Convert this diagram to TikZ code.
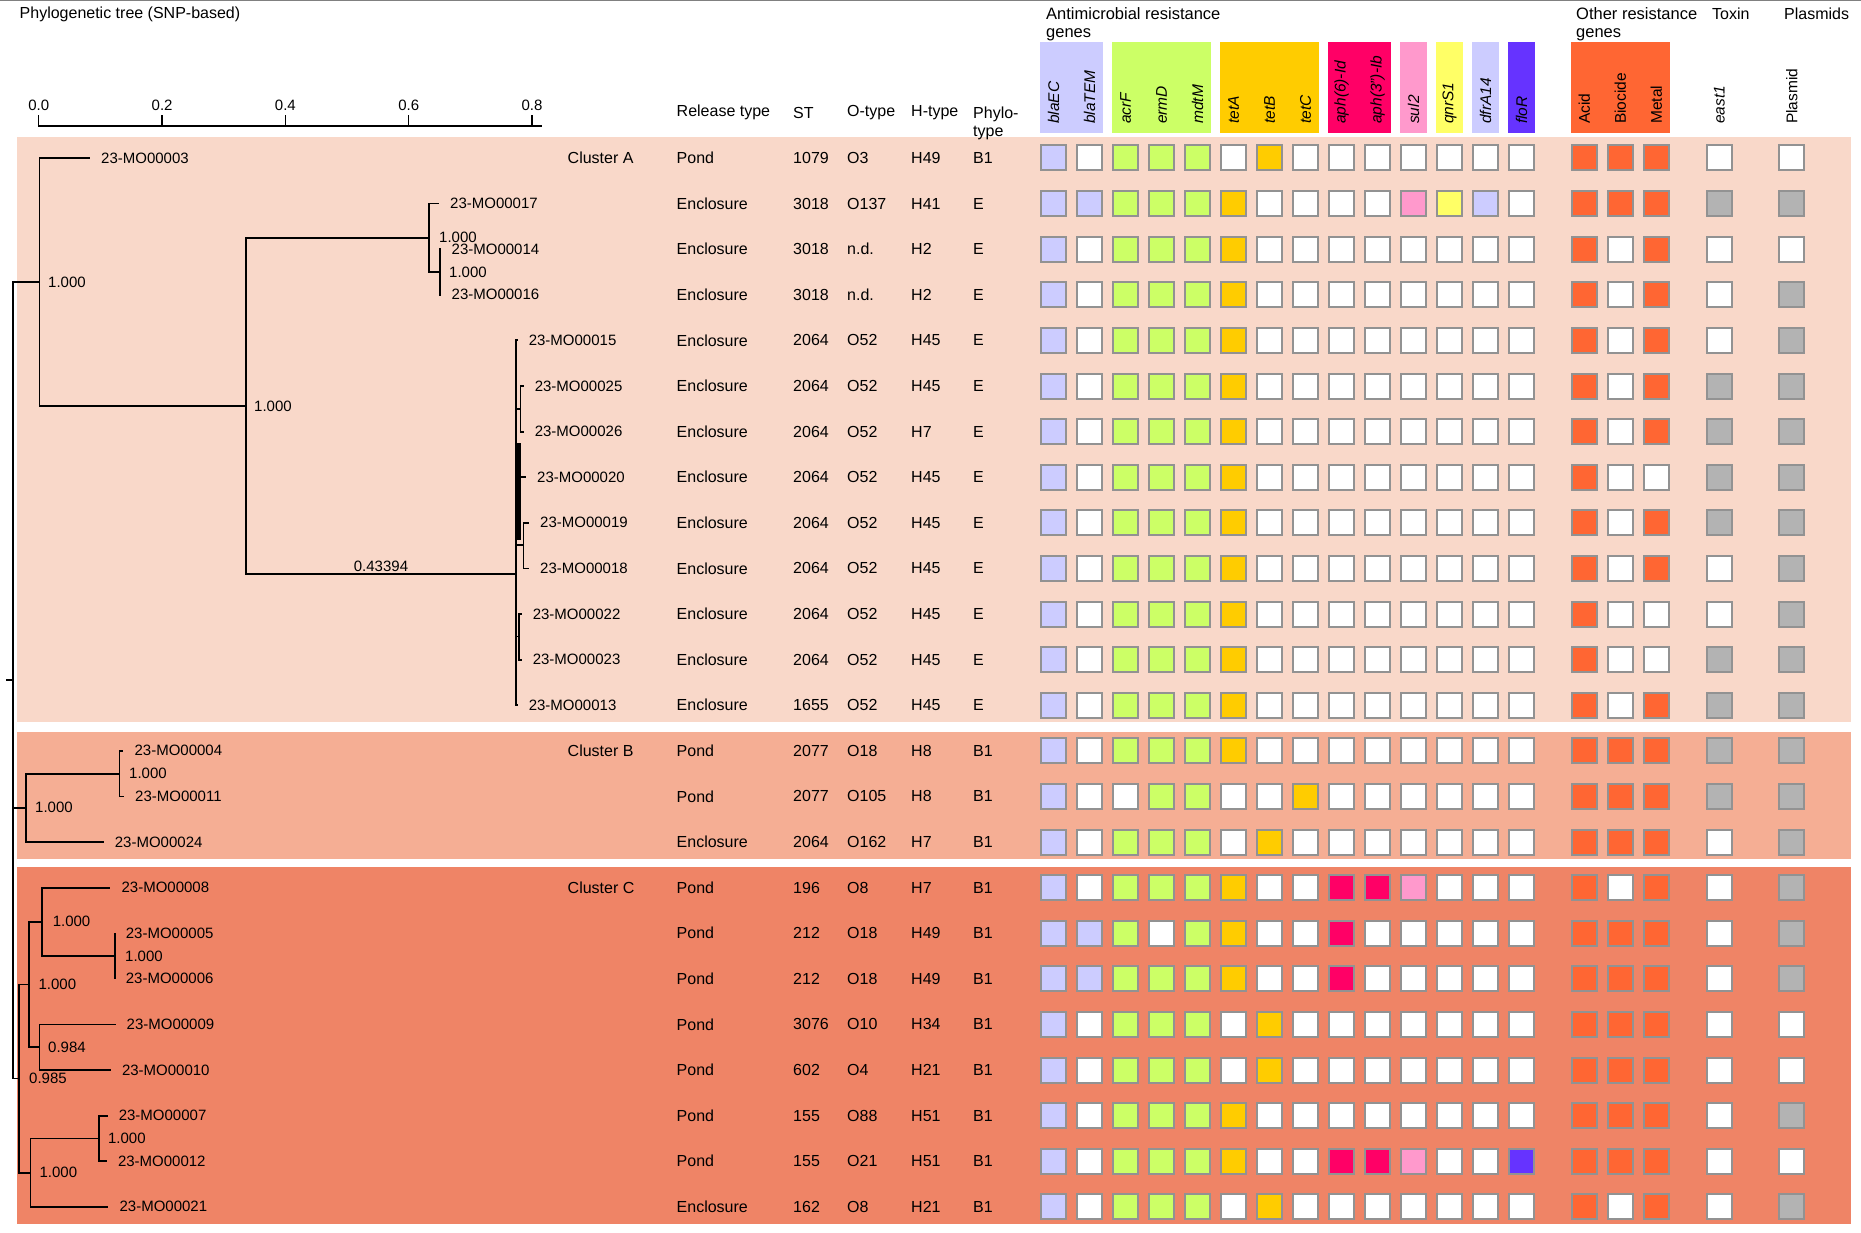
\documentclass[tikz,border=0pt]{standalone}
\usepackage{fontspec}
\setmainfont{Liberation Sans}
\usetikzlibrary{positioning,calc}

\definecolor{bandA}{HTML}{F9D8C9}
\definecolor{bandB}{HTML}{F5AE94}
\definecolor{bandC}{HTML}{EF8466}
\definecolor{genelav}{HTML}{CCCCFF}
\definecolor{genelime}{HTML}{CCFF66}
\definecolor{geneamber}{HTML}{FFCC00}
\definecolor{genecrim}{HTML}{FF0066}
\definecolor{genepink}{HTML}{FF99CC}
\definecolor{geneyel}{HTML}{FFFF66}
\definecolor{genepurp}{HTML}{6633FF}
\definecolor{geneorg}{HTML}{FF6633}
\definecolor{genegray}{HTML}{B3B3B3}
\definecolor{cellline}{HTML}{929292}

% column centres and colours of the gene matrix
\newcommand{\genecols}{1053.5/genelav,1089.5/genelav,1125.5/genelime,1161.5/genelime,1197.5/genelime,1233.5/geneamber,1269.5/geneamber,1305.5/geneamber,1341.5/genecrim,1377.5/genecrim,1413.5/genepink,1449.5/geneyel,1485.5/genelav,1521.5/genepurp,1584.3/geneorg,1620.3/geneorg,1656.3/geneorg,1719.3/genegray,1791.7/genegray}

\tikzset{
  branch/.style={line width=1.8pt, black},
  txt/.style={anchor=west, inner sep=0pt, font=\fontsize{16}{18}\selectfont},
  leaf/.style={anchor=west, inner xsep=11pt, inner ysep=0pt, font=\fontsize{15}{17}\selectfont},
  boot/.style={inner sep=0pt, font=\fontsize{15}{17}\selectfont},
  cell/.style={draw=cellline, line width=2pt, minimum width=24.5pt, minimum height=25pt, inner sep=0pt},
  gene/.style={rotate=90, anchor=west, inner sep=0pt, font=\fontsize{15.5}{18}\selectfont\itshape},
  generm/.style={gene, font=\fontsize{15.5}{18}\selectfont\upshape},
}

\begin{document}
\begin{tikzpicture}[x=1pt, y=-1pt]
\useasboundingbox (0,0) rectangle (1861,1233);

% top rule
\draw[gray, line width=1.5pt] (0,0.75) -- (1861,0.75);

% Cluster bands
\fill[bandA] (16.6,137.5) rectangle (1850.5,721.7);
\fill[bandB] (16.6,732) rectangle (1850.5,859);
\fill[bandC] (16.6,867) rectangle (1850.5,1224);

% Title and scale bar
\node[txt] (title) at (19.5,14) {Phylogenetic tree (SNP-based)};
\draw[line width=1.8pt] (38.4,126.3) -- (541.7,126.3);
\foreach \v [count=\k from 0] in {0.0,0.2,0.4,0.6,0.8}{
  \draw[line width=1.3pt] ({38.8+\k*123.3},126.3) -- ({38.8+\k*123.3},115);
  \node[boot] (ax\k) at ({38.8+\k*123.3},105) {\v};
}

% Column headers
\node[txt] (hrel) at (676.5,112.7) {Release type};
\node[txt] (hst) at (793,112.7) {ST};
\node[txt] (hot) at (847,112.7) {O-type};
\node[txt] (hht) at (911,112.7) {H-type};
\node[txt, align=left] (hph) at (973,123) {Phylo-\\type};
\node[txt, align=left, font=\fontsize{16.5}{18}\selectfont] (hamr) at (1046,24.4) {Antimicrobial resistance\\genes};
\node[txt, align=left, font=\fontsize{16.5}{18}\selectfont] (hoth) at (1576,24.4) {Other resistance\\genes};
\node[txt] (htox) at (1712,14) {Toxin};
\node[txt] (hpla) at (1784,14) {Plasmids};

% Gene group boxes
\foreach \a/\b/\col in {1053.5/1089.5/genelav, 1125.5/1197.5/genelime, 1233.5/1305.5/geneamber,
  1341.5/1377.5/genecrim, 1413.5/1413.5/genepink, 1449.5/1449.5/geneyel,
  1485.5/1485.5/genelav, 1521.5/1521.5/genepurp, 1584.3/1656.3/geneorg}
  \fill[\col] ({\a-13.25},41.7) rectangle ({\b+13.25},132.7);

% Gene names
\foreach \x/\g [count=\m] in {1053.5/blaEC, 1089.5/blaTEM, 1125.5/acrF, 1161.5/ermD, 1197.5/mdtM,
  1233.5/tetA, 1269.5/tetB, 1305.5/tetC, 1341.5/aph(6)-Id, 1377.5/aph(3'')-Ib, 1413.5/sul2,
  1449.5/qnrS1, 1485.5/dfrA14, 1521.5/floR, 1719.3/east1}
  \node[gene] (lab\m) at (\x,124) {\g};
\foreach \x/\g [count=\m] in {1584.3/Acid, 1620.3/Biocide, 1656.3/Metal, 1791.7/Plasmid}
  \node[generm] (lbo\m) at (\x,124) {\g};

% Isolates and typing data
\foreach \sid/\tipx/\rtype/\stype/\otype/\htype/\ptype [count=\n] in {
  03/90/Pond/1079/O3/H49/B1,
  17/439/Enclosure/3018/O137/H41/E,
  14/440.5/Enclosure/3018/n.d./H2/E,
  16/440.5/Enclosure/3018/n.d./H2/E,
  15/517.6/Enclosure/2064/O52/H45/E,
  25/523.6/Enclosure/2064/O52/H45/E,
  26/523.6/Enclosure/2064/O52/H7/E,
  20/526/Enclosure/2064/O52/H45/E,
  19/529/Enclosure/2064/O52/H45/E,
  18/529/Enclosure/2064/O52/H45/E,
  22/521.6/Enclosure/2064/O52/H45/E,
  23/521.6/Enclosure/2064/O52/H45/E,
  13/517.6/Enclosure/1655/O52/H45/E,
  04/123.4/Pond/2077/O18/H8/B1,
  11/124/Pond/2077/O105/H8/B1,
  24/103.7/Enclosure/2064/O162/H7/B1,
  08/110.4/Pond/196/O8/H7/B1,
  05/114.7/Pond/212/O18/H49/B1,
  06/114.7/Pond/212/O18/H49/B1,
  09/115.5/Pond/3076/O10/H34/B1,
  10/110.8/Pond/602/O4/H21/B1,
  07/107.6/Pond/155/O88/H51/B1,
  12/106.8/Pond/155/O21/H51/B1,
  21/108.4/Enclosure/162/O8/H21/B1}{
  \pgfmathsetmacro\yy{158+(\n-1)*45.6}
  \node[leaf] (s\sid) at (\tipx,\yy) {23-MO000\sid};
  \node[txt] (rel\sid) at (676.5,\yy) {\rtype};
  \node[txt] (st\sid) at (793,\yy) {\stype};
  \node[txt] (ot\sid) at (847,\yy) {\otype};
  \node[txt] (ht\sid) at (911,\yy) {\htype};
  \node[txt] (ph\sid) at (973,\yy) {\ptype};
}

% Cluster names
\node[txt] (clA) at (567.5,158) {Cluster A};
\node[txt] (clB) at (567.5,750.8) {Cluster B};
\node[txt] (clC) at (567.5,887.6) {Cluster C};

% Gene presence matrix
\foreach \bits [count=\n] in {
  {1,0,1,1,1,0,1,0,0,0,0,0,0,0,1,1,1,0,0},
  {1,1,1,1,1,1,0,0,0,0,1,1,1,0,1,1,1,1,1},
  {1,0,1,1,1,1,0,0,0,0,0,0,0,0,1,0,1,0,0},
  {1,0,1,1,1,1,0,0,0,0,0,0,0,0,1,0,1,0,1},
  {1,0,1,1,1,1,0,0,0,0,0,0,0,0,1,0,1,0,1},
  {1,0,1,1,1,1,0,0,0,0,0,0,0,0,1,0,1,1,1},
  {1,0,1,1,1,1,0,0,0,0,0,0,0,0,1,0,1,1,1},
  {1,0,1,1,1,1,0,0,0,0,0,0,0,0,1,0,0,1,1},
  {1,0,1,1,1,1,0,0,0,0,0,0,0,0,1,0,1,1,1},
  {1,0,1,1,1,1,0,0,0,0,0,0,0,0,1,0,1,0,1},
  {1,0,1,1,1,1,0,0,0,0,0,0,0,0,1,0,0,0,1},
  {1,0,1,1,1,1,0,0,0,0,0,0,0,0,1,0,0,1,1},
  {1,0,1,1,1,1,0,0,0,0,0,0,0,0,1,0,1,1,1},
  {1,0,1,1,1,1,0,0,0,0,0,0,0,0,1,1,1,1,1},
  {1,0,0,1,1,0,0,1,0,0,0,0,0,0,1,1,1,1,1},
  {1,0,1,1,1,0,1,0,0,0,0,0,0,0,1,1,1,0,1},
  {1,0,1,1,1,1,0,0,1,1,1,0,0,0,1,0,1,0,1},
  {1,1,1,0,1,1,0,0,1,0,0,0,0,0,1,1,1,0,1},
  {1,1,1,1,1,1,0,0,1,0,0,0,0,0,1,1,1,0,1},
  {1,0,1,1,1,0,1,0,0,0,0,0,0,0,1,1,1,0,0},
  {1,0,1,1,1,0,1,0,0,0,0,0,0,0,1,1,1,0,0},
  {1,0,1,1,1,1,0,0,0,0,0,0,0,0,1,1,1,0,1},
  {1,0,1,1,1,1,0,0,1,1,1,0,0,1,1,1,1,0,0},
  {1,0,1,1,1,0,1,0,0,0,0,0,0,0,1,0,1,0,1}}{
  \pgfmathsetmacro\yy{158+(\n-1)*45.6}
  \foreach \x/\col [count=\m] in \genecols {
    \pgfmathtruncatemacro\on{{\bits}[\m-1]}
    \ifnum\on=1 \def\fc{\col}\else\def\fc{white}\fi
    \node[cell, fill=\fc] (c\n-\m) at (\x,\yy) {};
  }
}

% Tree nodes
\coordinate (rootstub) at (6,680);
\coordinate (root) at (13,680);
\coordinate (nA) at (39.5,282);
\coordinate (nA2) at (246,406);
\coordinate (nA3) at (429,237.8);
\coordinate (nA5) at (440,272);
\coordinate (nA4) at (516,574);
\coordinate (nA6) at (520.5,409);
\coordinate (nA7) at (523.5,545.2);
\coordinate (nA8) at (519,636.4);
\coordinate (nB) at (25.7,807.8);
\coordinate (nB2) at (119.4,773.6);
\coordinate (nC) at (19,1078.5);
\coordinate (nC2) at (29,984.5);
\coordinate (nC3) at (42.3,921.8);
\coordinate (nC6) at (114.7,956);
\coordinate (nC4) at (39.5,1047.2);
\coordinate (nC5) at (30.4,1172.6);
\coordinate (nC7) at (98.9,1138.4);

% Branches
\draw[branch] (rootstub) -- (root);
\foreach \p/\q in {root/nA, root/nB, root/nC, nA/s03.west, nA/nA2, nA2/nA3, nA2/nA4,
  nA3/s17.west, nA3/nA5, nA5/s14.west, nA5/s16.west, nA4/s15.west, nA4/s13.west,
  nA4/s20.west, nA4/nA6, nA6/s25.west, nA6/s26.west, nA4/nA7, nA7/s19.west,
  nA7/s18.west, nA4/nA8, nA8/s22.west, nA8/s23.west, nB/nB2, nB/s24.west,
  nB2/s04.west, nB2/s11.west, nC/nC2, nC/nC5, nC2/nC3, nC2/nC4, nC3/s08.west,
  nC3/nC6, nC6/s05.west, nC6/s06.west, nC4/s09.west, nC4/s10.west, nC5/nC7,
  nC5/s21.west, nC7/s07.west, nC7/s12.west}
  \draw[branch] (\p) |- (\q);
\fill (515,443) rectangle (520.5,540); % dense short branches

% Bootstrap values
\node[boot, right=8.5pt of nA] (bA) {1.000};
\node[boot, right=8pt of nA2] (bA2) {1.000};
\node[boot, right=10pt of nA3] (bA3) {1.000};
\node[boot, right=9pt of nA5] (bA5) {1.000};
\node[boot, anchor=south, yshift=2pt] (bA4) at ($(nA2|-nA4)!0.5!(nA4)$) {0.43394};
\node[boot, right=9.3pt of nB] (bB) {1.000};
\node[boot, right=9.6pt of nB2] (bB2) {1.000};
\node[boot, right=10pt of nC] (bC) {0.985};
\node[boot, right=9.4pt of nC2] (bC2) {1.000};
\node[boot, right=10.3pt of nC3] (bC3) {1.000};
\node[boot, right=10.3pt of nC6] (bC6) {1.000};
\node[boot, right=8.5pt of nC4] (bC4) {0.984};
\node[boot, right=9pt of nC5] (bC5) {1.000};
\node[boot, right=9pt of nC7] (bC7) {1.000};

\end{tikzpicture}
\end{document}
